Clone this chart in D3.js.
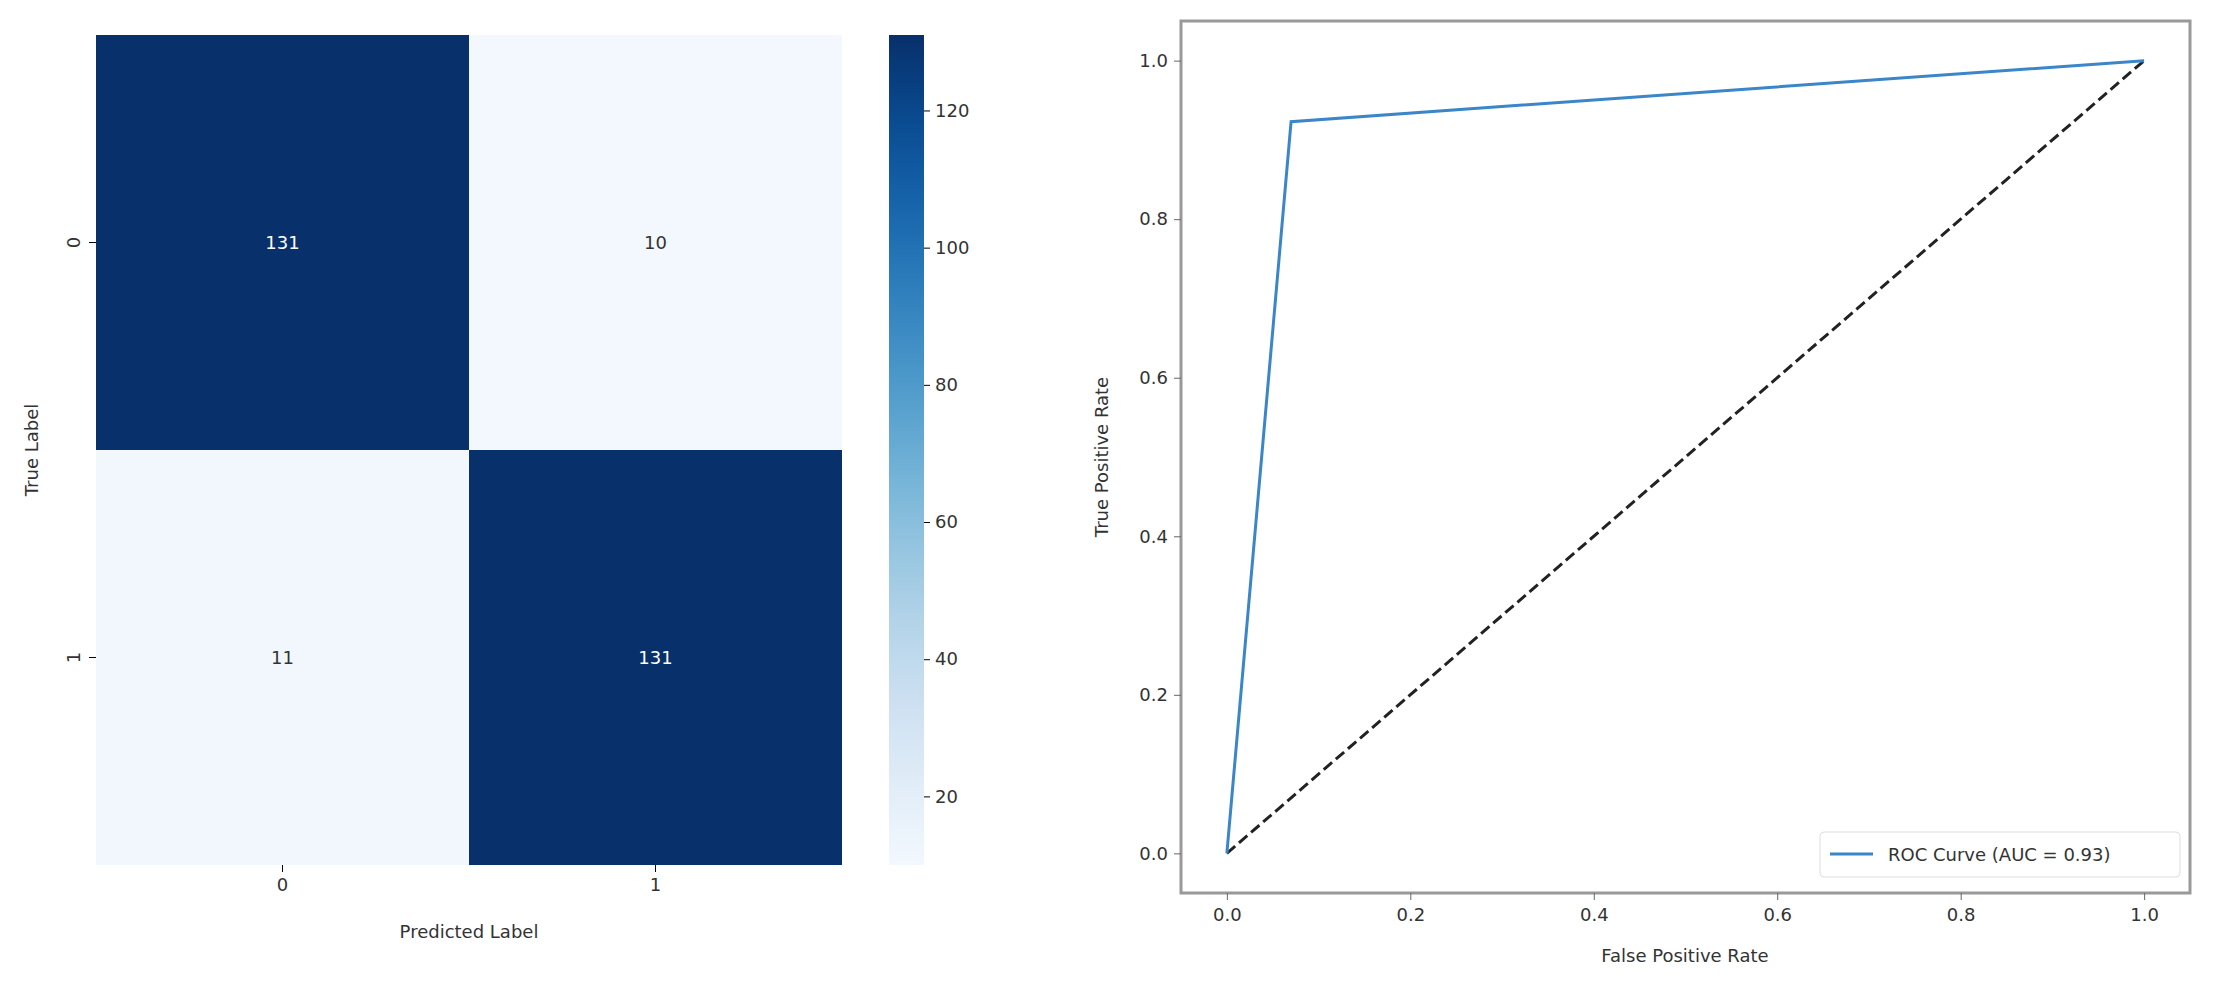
<!DOCTYPE html>
<html><head><meta charset="utf-8">
<script src="https://cdn.jsdelivr.net/npm/d3@7"></script>
<style>body{margin:0;background:#fff}text{font-family:"DejaVu Sans",sans-serif;fill:#333}</style>
</head><body>
<svg id="c" width="2219" height="982"></svg>
<script>
const labels=["0","1"];
const matrix=[[131,10],[11,131]];
const cbTicks=[20,40,60,80,100,120];
const rocFpr=[0,0.07,1];
const rocTpr=[0,0.923,1];
const diagX=[0,1];
const diagY=[0,1];
const axisTicks=[0,0.2,0.4,0.6,0.8,1.0];

const svg=d3.select("#c");
const fs=18;
// Heatmap
const hx=d3.scaleBand().domain(labels).range([96,842]);
const hy=d3.scaleBand().domain(labels).range([35,865]);
const vmin=10,vmax=131;
const col=v=>d3.interpolateBlues(0.02+0.98*(v-vmin)/(vmax-vmin));
const cells=[];matrix.forEach((r,i)=>r.forEach((v,j)=>cells.push({r:labels[i],c:labels[j],v})));
svg.selectAll("rect.cell").data(cells).join("rect").attr("x",d=>hx(d.c)).attr("y",d=>hy(d.r))
 .attr("width",hx.bandwidth()).attr("height",hy.bandwidth()).attr("fill",d=>col(d.v));
svg.selectAll("text.val").data(cells).join("text").attr("x",d=>hx(d.c)+hx.bandwidth()/2).attr("y",d=>hy(d.r)+hy.bandwidth()/2)
 .attr("text-anchor","middle").attr("dominant-baseline","central").style("font-size",fs+"px")
 .style("fill",d=>d.v>70?"#fff":"#333").text(d=>d.v);
const gxa=svg.append("g").attr("transform","translate(0,865)").call(d3.axisBottom(hx).tickSize(7).tickPadding(6));
gxa.select(".domain").remove();
gxa.selectAll("text").style("font-size",fs+"px").style("fill","#333");
const gya=svg.append("g").attr("transform","translate(96,0)").call(d3.axisLeft(hy).tickSize(7).tickPadding(6));
gya.select(".domain").remove();
gya.selectAll("text").style("font-size",fs+"px").style("fill","#333").attr("transform",function(){return null})
 .each(function(){const t=d3.select(this);t.attr("text-anchor","middle").attr("dy","0.35em").attr("x",0).attr("transform","translate(-22,0) rotate(-90)");});
svg.append("text").attr("x",469).attr("y",938).attr("text-anchor","middle").style("font-size",fs+"px").text("Predicted Label");
svg.append("text").attr("transform","translate(38,450) rotate(-90)").attr("text-anchor","middle").style("font-size",fs+"px").text("True Label");
// Colorbar
const cby=d3.scaleLinear().domain([vmin,vmax]).range([865,35]);
const defs=svg.append("defs");
const lg=defs.append("linearGradient").attr("id","cb").attr("x1",0).attr("y1",1).attr("x2",0).attr("y2",0);
d3.range(0,1.001,0.05).forEach(t=>lg.append("stop").attr("offset",t).attr("stop-color",col(vmin+t*(vmax-vmin))));
svg.append("rect").attr("x",889).attr("y",35).attr("width",35).attr("height",830).attr("fill","url(#cb)");
const gcb=svg.append("g").attr("transform","translate(924,0)").call(d3.axisRight(cby).tickValues(cbTicks).tickSize(6).tickPadding(5));
gcb.select(".domain").remove();
gcb.selectAll("text").style("font-size",fs+"px").style("fill","#333");
// ROC
const rx=d3.scaleLinear().domain([-0.05,1.05]).range([1181,2190]);
const ry=d3.scaleLinear().domain([-0.05,1.05]).range([893,21]);
svg.append("rect").attr("x",1181).attr("y",21).attr("width",1009).attr("height",872).attr("fill","none").attr("stroke","#999").attr("stroke-width",3);
const gx=svg.append("g").attr("transform","translate(0,893)").call(d3.axisBottom(rx).tickValues(axisTicks).tickFormat(d3.format(".1f")).tickSize(7).tickPadding(8));
gx.select(".domain").remove();gx.selectAll("text").style("font-size",fs+"px").style("fill","#333");gx.selectAll("line").attr("stroke","#666");
const gy=svg.append("g").attr("transform","translate(1181,0)").call(d3.axisLeft(ry).tickValues(axisTicks).tickFormat(d3.format(".1f")).tickSize(7).tickPadding(6));
gy.select(".domain").remove();gy.selectAll("text").style("font-size",fs+"px").style("fill","#333");gy.selectAll("line").attr("stroke","#666");
svg.append("text").attr("x",1685).attr("y",962).attr("text-anchor","middle").style("font-size",fs+"px").text("False Positive Rate");
svg.append("text").attr("transform","translate(1108,457) rotate(-90)").attr("text-anchor","middle").style("font-size",fs+"px").text("True Positive Rate");
const line=d3.line().x(d=>rx(d[0])).y(d=>ry(d[1]));
svg.append("path").datum(diagX.map((x,i)=>[x,diagY[i]])).attr("d",line).attr("fill","none").attr("stroke","#222").attr("stroke-width",3).attr("stroke-dasharray","11,5");
svg.append("path").datum(rocFpr.map((x,i)=>[x,rocTpr[i]])).attr("d",line).attr("fill","none").attr("stroke","#3a86c8").attr("stroke-width",3);
// legend
svg.append("rect").attr("x",1820).attr("y",832).attr("width",360).attr("height",45).attr("rx",4).attr("fill","#fff").attr("stroke","#ddd");
svg.append("line").attr("x1",1830).attr("x2",1873).attr("y1",854).attr("y2",854).attr("stroke","#3a86c8").attr("stroke-width",3);
svg.append("text").attr("x",1888).attr("y",854).attr("dominant-baseline","central").style("font-size",fs+"px").text("ROC Curve (AUC = 0.93)");
</script></body></html>
